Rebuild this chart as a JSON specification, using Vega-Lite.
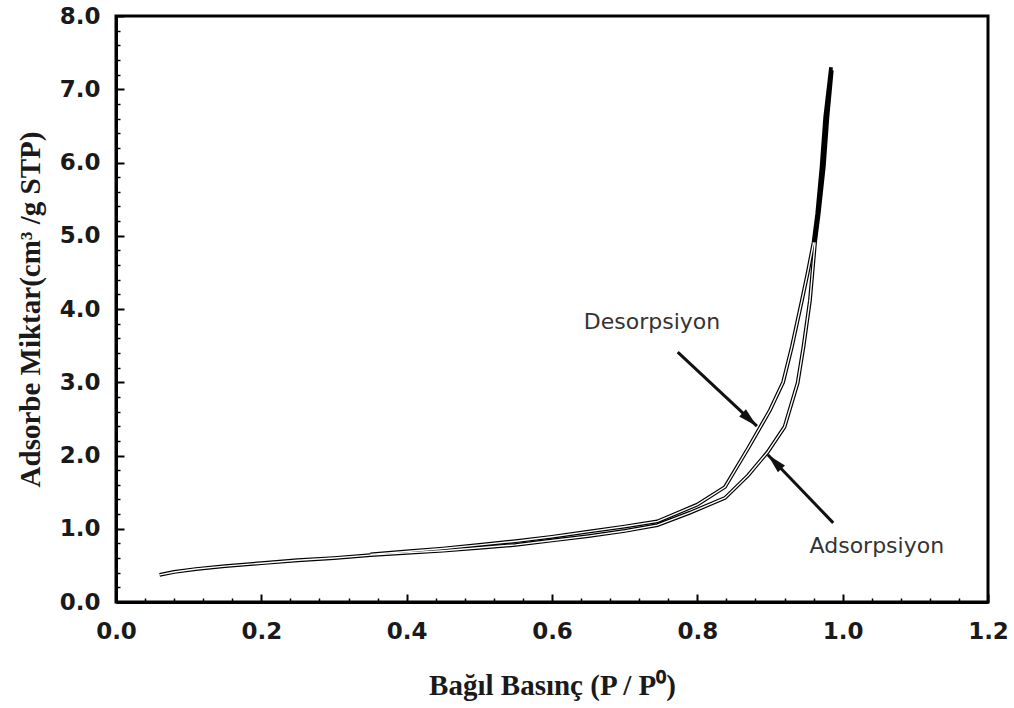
{
  "$schema": "https://vega.github.io/schema/vega-lite/v6.json",
  "width": 872,
  "height": 586,
  "autosize": {"type": "none"},
  "padding": {"left": 116, "top": 16, "right": 26, "bottom": 106},
  "background": "white",
  "config": {
    "view": {"stroke": "black", "strokeWidth": 3},
    "axis": {"grid": false}
  },
  "datasets": {
    "curves": [
      {"series": "Adsorpsiyon", "i": 1, "x": 0.060, "y": 0.37},
      {"series": "Adsorpsiyon", "i": 2, "x": 0.080, "y": 0.41},
      {"series": "Adsorpsiyon", "i": 3, "x": 0.110, "y": 0.45},
      {"series": "Adsorpsiyon", "i": 4, "x": 0.150, "y": 0.49},
      {"series": "Adsorpsiyon", "i": 5, "x": 0.200, "y": 0.53},
      {"series": "Adsorpsiyon", "i": 6, "x": 0.250, "y": 0.57},
      {"series": "Adsorpsiyon", "i": 7, "x": 0.300, "y": 0.60},
      {"series": "Adsorpsiyon", "i": 8, "x": 0.350, "y": 0.64},
      {"series": "Adsorpsiyon", "i": 9, "x": 0.400, "y": 0.67},
      {"series": "Adsorpsiyon", "i": 10, "x": 0.450, "y": 0.70},
      {"series": "Adsorpsiyon", "i": 11, "x": 0.500, "y": 0.74},
      {"series": "Adsorpsiyon", "i": 12, "x": 0.550, "y": 0.78},
      {"series": "Adsorpsiyon", "i": 13, "x": 0.600, "y": 0.84},
      {"series": "Adsorpsiyon", "i": 14, "x": 0.650, "y": 0.90},
      {"series": "Adsorpsiyon", "i": 15, "x": 0.700, "y": 0.97},
      {"series": "Adsorpsiyon", "i": 16, "x": 0.745, "y": 1.05},
      {"series": "Adsorpsiyon", "i": 17, "x": 0.790, "y": 1.22},
      {"series": "Adsorpsiyon", "i": 18, "x": 0.838, "y": 1.42},
      {"series": "Adsorpsiyon", "i": 19, "x": 0.870, "y": 1.73},
      {"series": "Adsorpsiyon", "i": 20, "x": 0.897, "y": 2.05},
      {"series": "Adsorpsiyon", "i": 21, "x": 0.920, "y": 2.39},
      {"series": "Adsorpsiyon", "i": 22, "x": 0.938, "y": 2.99},
      {"series": "Adsorpsiyon", "i": 23, "x": 0.946, "y": 3.48},
      {"series": "Adsorpsiyon", "i": 24, "x": 0.955, "y": 4.12},
      {"series": "Adsorpsiyon", "i": 25, "x": 0.962, "y": 4.91},
      {"series": "Adsorpsiyon", "i": 26, "x": 0.967, "y": 5.30},
      {"series": "Adsorpsiyon", "i": 27, "x": 0.974, "y": 5.94},
      {"series": "Adsorpsiyon", "i": 28, "x": 0.979, "y": 6.62},
      {"series": "Adsorpsiyon", "i": 29, "x": 0.985, "y": 7.26},
      {"series": "Desorpsiyon", "i": 1, "x": 0.984, "y": 7.30},
      {"series": "Desorpsiyon", "i": 2, "x": 0.976, "y": 6.62},
      {"series": "Desorpsiyon", "i": 3, "x": 0.971, "y": 5.94},
      {"series": "Desorpsiyon", "i": 4, "x": 0.965, "y": 5.30},
      {"series": "Desorpsiyon", "i": 5, "x": 0.960, "y": 4.91},
      {"series": "Desorpsiyon", "i": 6, "x": 0.952, "y": 4.50},
      {"series": "Desorpsiyon", "i": 7, "x": 0.944, "y": 4.12},
      {"series": "Desorpsiyon", "i": 8, "x": 0.930, "y": 3.48},
      {"series": "Desorpsiyon", "i": 9, "x": 0.918, "y": 3.00},
      {"series": "Desorpsiyon", "i": 10, "x": 0.900, "y": 2.62},
      {"series": "Desorpsiyon", "i": 11, "x": 0.870, "y": 2.10},
      {"series": "Desorpsiyon", "i": 12, "x": 0.838, "y": 1.57},
      {"series": "Desorpsiyon", "i": 13, "x": 0.800, "y": 1.33},
      {"series": "Desorpsiyon", "i": 14, "x": 0.745, "y": 1.10},
      {"series": "Desorpsiyon", "i": 15, "x": 0.700, "y": 1.03},
      {"series": "Desorpsiyon", "i": 16, "x": 0.650, "y": 0.96},
      {"series": "Desorpsiyon", "i": 17, "x": 0.600, "y": 0.89},
      {"series": "Desorpsiyon", "i": 18, "x": 0.550, "y": 0.83},
      {"series": "Desorpsiyon", "i": 19, "x": 0.500, "y": 0.78},
      {"series": "Desorpsiyon", "i": 20, "x": 0.450, "y": 0.73},
      {"series": "Desorpsiyon", "i": 21, "x": 0.400, "y": 0.69},
      {"series": "Desorpsiyon", "i": 22, "x": 0.350, "y": 0.65}
    ],
    "labels": [
      {"text": "Desorpsiyon", "x": 0.7376, "y": 3.82},
      {"text": "Adsorpsiyon", "x": 1.047, "y": 0.764}
    ],
    "arrows": [
      {"name": "Desorpsiyon", "x": 0.773, "y": 3.41, "x2": 0.882, "y2": 2.40},
      {"name": "Adsorpsiyon", "x": 0.987, "y": 1.08, "x2": 0.897, "y2": 2.01}
    ]
  },
  "resolve": {"axis": {"x": "independent", "y": "independent"}},
  "layer": [
    {
      "data": {"name": "curves"},
      "mark": {"type": "line", "color": "black", "strokeWidth": 3.8},
      "encoding": {
        "x": {
          "field": "x", "type": "quantitative",
          "scale": {"domain": [0, 1.2], "nice": false, "zero": false},
          "axis": {
            "orient": "bottom",
            "values": [0, 0.2, 0.4, 0.6, 0.8, 1.0, 1.2],
            "format": ".1f",
            "tickSize": -8, "tickWidth": 2, "tickColor": "black",
            "domain": true, "domainColor": "black", "domainWidth": 3,
            "labelFont": "DejaVu Sans", "labelFontWeight": "bold", "labelFontSize": 23,
            "labelColor": "#1a1a1a", "labelPadding": 26, "labelFlush": false,
            "title": "Bağıl Basınç (P / P⁰)",
            "titleFont": "Liberation Serif", "titleFontSize": 29, "titleFontWeight": "bold",
            "titleColor": "#1a1a1a", "titlePadding": 28
          }
        },
        "y": {
          "field": "y", "type": "quantitative",
          "scale": {"domain": [0, 8], "nice": false, "zero": false},
          "axis": {
            "orient": "left",
            "values": [0, 1, 2, 3, 4, 5, 6, 7, 8],
            "format": ".1f",
            "tickSize": -8, "tickWidth": 2, "tickColor": "black",
            "domain": true, "domainColor": "black", "domainWidth": 3,
            "labelFont": "DejaVu Sans", "labelFontWeight": "bold", "labelFontSize": 23,
            "labelColor": "#1a1a1a", "labelPadding": 24, "labelFlush": false,
            "title": "Adsorbe Miktar(cm³ /g STP)",
            "titleFont": "Liberation Serif", "titleFontSize": 29, "titleFontWeight": "bold",
            "titleColor": "#1a1a1a", "titlePadding": 14
          }
        },
        "detail": {"field": "series"},
        "order": {"field": "i"}
      }
    },
    {
      "data": {"name": "curves"},
      "transform": [{"filter": "datum.y < 4.95"}],
      "mark": {"type": "line", "color": "white", "strokeWidth": 1.4},
      "encoding": {
        "x": {
          "field": "x", "type": "quantitative",
          "axis": {
            "orient": "bottom",
            "values": [0.04, 0.08, 0.12, 0.16, 0.24, 0.28, 0.32, 0.36, 0.44, 0.48, 0.52, 0.56, 0.64, 0.68, 0.72, 0.76, 0.84, 0.88, 0.92, 0.96, 1.04, 1.08, 1.12, 1.16],
            "tickSize": -4, "tickWidth": 1.5, "tickColor": "black",
            "labels": false, "domain": false, "title": null
          }
        },
        "y": {
          "field": "y", "type": "quantitative",
          "axis": {
            "orient": "left",
            "values": [0.2, 0.4, 0.6, 0.8, 1.2, 1.4, 1.6, 1.8, 2.2, 2.4, 2.6, 2.8, 3.2, 3.4, 3.6, 3.8, 4.2, 4.4, 4.6, 4.8, 5.2, 5.4, 5.6, 5.8, 6.2, 6.4, 6.6, 6.8, 7.2, 7.4, 7.6, 7.8],
            "tickSize": -4, "tickWidth": 1.5, "tickColor": "black",
            "labels": false, "domain": false, "title": null
          }
        },
        "detail": {"field": "series"},
        "order": {"field": "i"}
      }
    },
    {
      "data": {"name": "arrows"},
      "mark": {"type": "rule", "color": "#111", "strokeWidth": 3},
      "encoding": {
        "x": {"field": "x", "type": "quantitative", "axis": null},
        "y": {"field": "y", "type": "quantitative", "axis": null},
        "x2": {"field": "x2"},
        "y2": {"field": "y2"}
      }
    },
    {
      "data": {"name": "arrows"},
      "transform": [{"filter": "datum.name == 'Desorpsiyon'"}],
      "mark": {"type": "point", "shape": "M0,0L-0.4,1.6L0.4,1.6Z", "filled": true, "color": "#111", "opacity": 1, "size": 600, "angle": 133},
      "encoding": {
        "x": {"field": "x2", "type": "quantitative", "axis": null},
        "y": {"field": "y2", "type": "quantitative", "axis": null}
      }
    },
    {
      "data": {"name": "arrows"},
      "transform": [{"filter": "datum.name == 'Adsorpsiyon'"}],
      "mark": {"type": "point", "shape": "M0,0L-0.4,1.6L0.4,1.6Z", "filled": true, "color": "#111", "opacity": 1, "size": 600, "angle": 316},
      "encoding": {
        "x": {"field": "x2", "type": "quantitative", "axis": null},
        "y": {"field": "y2", "type": "quantitative", "axis": null}
      }
    },
    {
      "data": {"name": "labels"},
      "mark": {"type": "text", "font": "DejaVu Sans", "fontSize": 22, "color": "#333", "align": "center", "baseline": "middle"},
      "encoding": {
        "x": {"field": "x", "type": "quantitative", "axis": null},
        "y": {"field": "y", "type": "quantitative", "axis": null},
        "text": {"field": "text"}
      }
    }
  ]
}
